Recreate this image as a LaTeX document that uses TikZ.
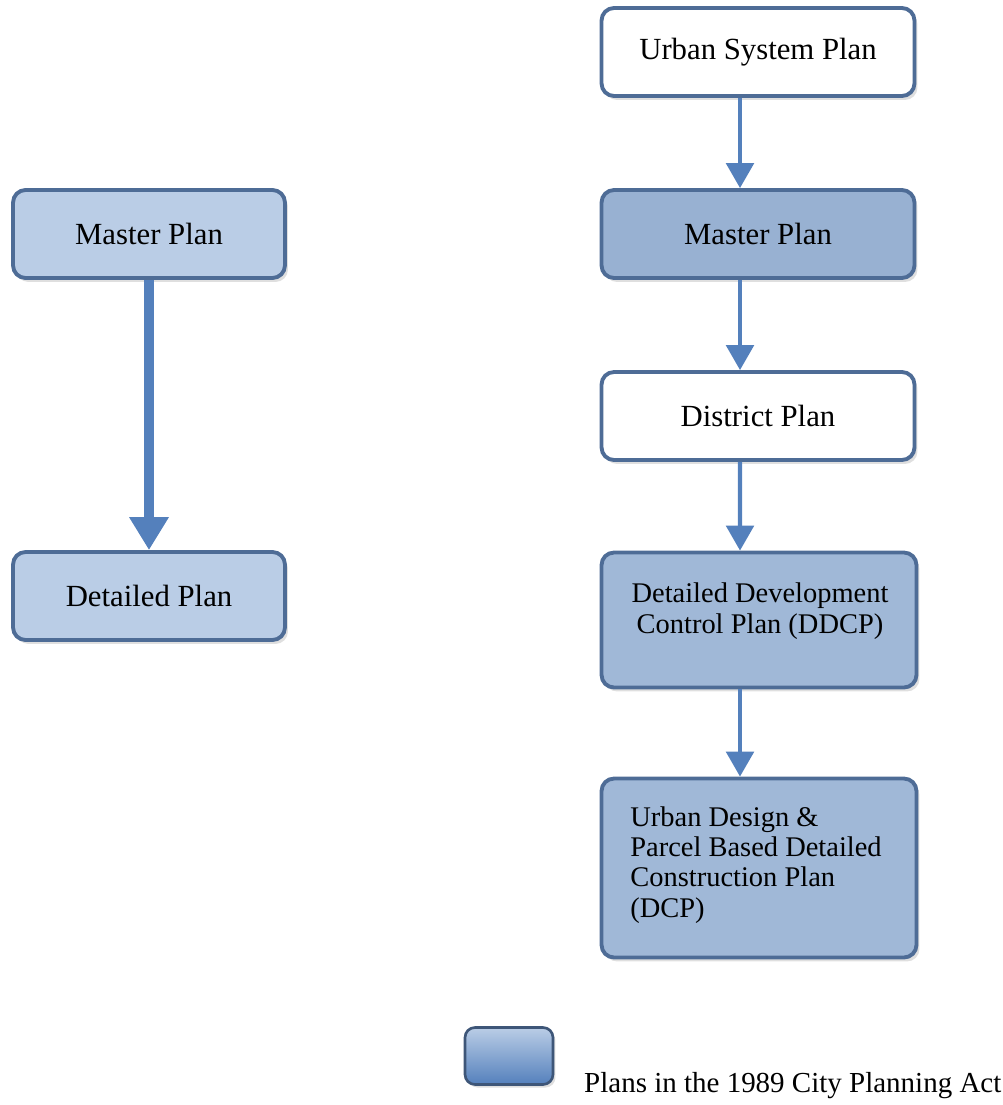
\documentclass[tikz,border=0pt]{standalone}
\usepackage{fontspec}
\setmainfont{Liberation Serif}
\usetikzlibrary{shapes,arrows,positioning,shadows,arrows.meta}

\definecolor{planedge}{RGB}{78,108,150}
\definecolor{planlight}{RGB}{186,205,230}
\definecolor{plandark}{RGB}{152,177,210}
\definecolor{planmid}{RGB}{160,184,215}
\definecolor{arrowblue}{RGB}{84,128,188}

\tikzset{
    planbox/.style={rectangle, draw=planedge, line width=2.2pt, rounded corners=0.25cm,
        minimum height=1.76cm, align=center, font=\fontsize{17.5}{18}\selectfont,
        drop shadow={opacity=0.25, shadow xshift=0.06cm, shadow yshift=-0.08cm}},
    plantext/.style={font=\fontsize{16.2}{17.3}\selectfont, inner sep=0pt},
    flow/.style={draw=arrowblue, line width=2.3pt, -{Triangle[width=0.55cm,length=0.5cm]}},
}

\begin{document}
\begin{tikzpicture}[x=0.02cm, y=-0.02cm]
    \useasboundingbox (0,0) rectangle (1002,1105);

    % Left column: plans before the act
    \node[planbox, fill=planlight, minimum width=5.44cm] (lmaster) at (149,234) {Master Plan};
    \node[planbox, fill=planlight, minimum width=5.44cm] (ldetail) at (149,596) {Detailed Plan};

    \draw[draw=arrowblue, line width=5.5pt, -{Triangle[width=0.75cm,length=0.66cm]}]
        (lmaster) -- (ldetail);

    % Right column: planning hierarchy
    \node[planbox, fill=white, minimum width=6.26cm] (system) at (758,52) {Urban System Plan};
    \node[planbox, fill=plandark, minimum width=6.26cm] (rmaster) at (758,234) {Master Plan};
    \node[planbox, fill=white, minimum width=6.26cm] (district) at (758,416) {District Plan};
    \node[planbox, fill=planmid, minimum width=6.3cm, minimum height=2.7cm] (ddcp) at (759,620) {};
    \node[plantext, align=center] (ddcptext) at (760,611)
        {Detailed Development\\Control Plan (DDCP)};
    \node[planbox, fill=planmid, minimum width=6.3cm, minimum height=3.58cm] (dcp) at (759,868) {};
    \node[plantext, align=left, anchor=north west] (dcptext) at (630,806)
        {Urban Design \&\\Parcel Based Detailed\\Construction Plan\\(DCP)};

    % Arrows down the hierarchy
    \draw[flow] ([xshift=-0.36cm]system.south) -- ([xshift=-0.36cm]rmaster.north);
    \draw[flow] ([xshift=-0.36cm]rmaster.south) -- ([xshift=-0.36cm]district.north);
    \draw[flow] ([xshift=-0.36cm]district.south) -- ([xshift=-0.38cm]ddcp.north);
    \draw[flow] ([xshift=-0.38cm]ddcp.south) -- ([xshift=-0.38cm]dcp.north);

    % Legend
    \node[rectangle, draw=planedge!80!black, line width=1.5pt, rounded corners=0.2cm,
        top color=planlight, bottom color=arrowblue, minimum width=1.76cm, minimum height=1.14cm,
        drop shadow={opacity=0.25, shadow xshift=0.05cm, shadow yshift=-0.06cm}]
        (legend) at (509,1056) {};
    \node[anchor=west, font=\fontsize{16.5}{18}\selectfont] (legendtext) at (578,1086)
        {Plans in the 1989 City Planning Act};
\end{tikzpicture}
\end{document}
